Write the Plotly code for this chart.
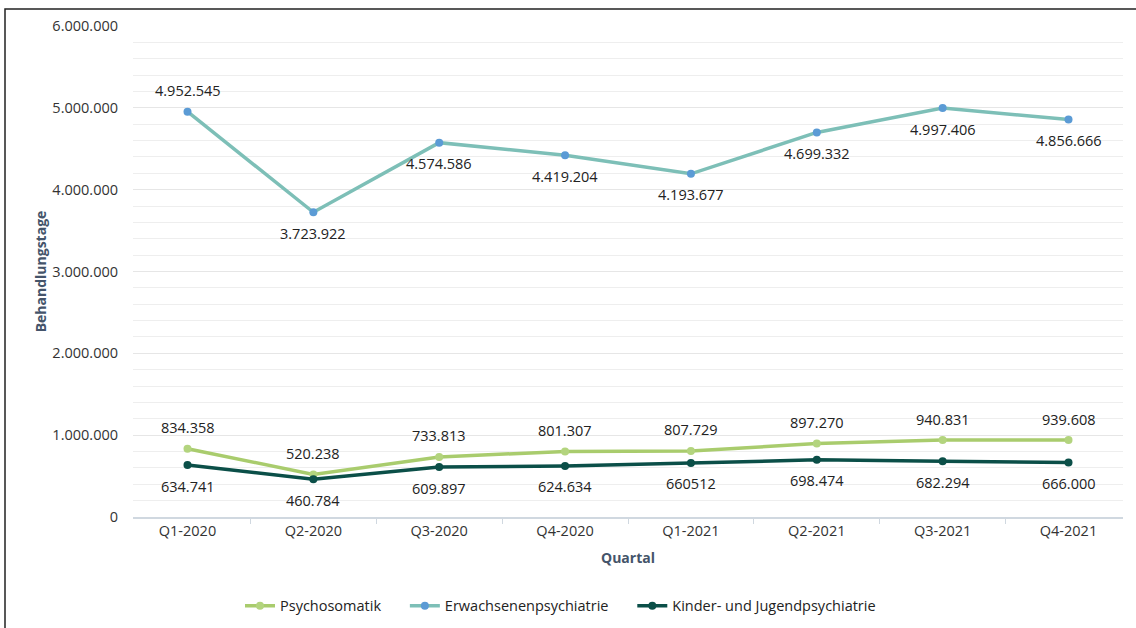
import plotly.graph_objects as go

quartale = ["Q1-2020", "Q2-2020", "Q3-2020", "Q4-2020", "Q1-2021", "Q2-2021", "Q3-2021", "Q4-2021"]

psychosomatik = [834358, 520238, 733813, 801307, 807729, 897270, 940831, 939608]
erwachsenen = [4952545, 3723922, 4574586, 4419204, 4193677, 4699332, 4997406, 4856666]
kinder = [634741, 460784, 609897, 624634, 660512, 698474, 682294, 666000]

psychosomatik_labels = ["834.358", "520.238", "733.813", "801.307", "807.729", "897.270", "940.831", "939.608"]
erwachsenen_labels = ["4.952.545", "3.723.922", "4.574.586", "4.419.204", "4.193.677", "4.699.332", "4.997.406", "4.856.666"]
kinder_labels = ["634.741", "460.784", "609.897", "624.634", "660512", "698.474", "682.294", "666.000"]

# label above (+1) or below (-1) the point
psych_side = [1] * 8
erw_side = [1] + [-1] * 7
kinder_side = [-1] * 8

font = "Open Sans, DejaVu Sans, sans-serif"
pad = "\u00a0" * 5  # extra gap between legend entries

fig = go.Figure()

series = [
    ("Psychosomatik" + pad, psychosomatik, psychosomatik_labels, psych_side, "#a9cc6d", "#b3d47e"),
    ("Erwachsenenpsychiatrie" + pad, erwachsenen, erwachsenen_labels, erw_side, "#7dbfb7", "#5b9bd5"),
    ("Kinder- und Jugendpsychiatrie", kinder, kinder_labels, kinder_side, "#0b4f48", "#0b4f48"),
]

annotations = []
for name, vals, labels, side, lc, mc in series:
    fig.add_trace(go.Scatter(
        x=quartale, y=vals, name=name, mode="lines+markers",
        line=dict(color=lc, width=3.5),
        marker=dict(color=mc, size=8),
    ))
    for q, v, t, s in zip(quartale, vals, labels, side):
        annotations.append(dict(
            x=q, y=v, text=t, showarrow=False, yshift=21 * s,
            font=dict(size=14.5, color="#222222"),
        ))

fig.update_layout(
    width=1136, height=628,
    margin=dict(l=133, r=13, t=26, b=111, autoexpand=False),
    paper_bgcolor="white", plot_bgcolor="white",
    separators=",.",
    font=dict(family=font, size=14, color="#333333"),
    showlegend=True,
    legend=dict(orientation="h", x=(240 - 133) / 990, xanchor="left", y=-0.181, yanchor="middle",
                font=dict(size=14.5, color="#222222"), itemwidth=30),
    annotations=annotations,
    shapes=[dict(type="rect", xref="paper", yref="paper",
                 x0=(5 - 133) / 990, x1=(1145 - 133) / 990,
                 y0=(517 - 650) / 491, y1=1 + (26 - 9) / 491,
                 line=dict(color="#222222", width=1.5), fillcolor="rgba(0,0,0,0)")],
)

fig.update_xaxes(
    type="category", tickson="boundaries", ticks="outside", ticklen=5,
    tickcolor="#d0d8e0", showline=True, linecolor="#d0d8e0", linewidth=1.5,
    showgrid=False, tickfont=dict(size=14.5, color="#333333"),
    title=dict(text="<b>Quartal</b>", font=dict(size=14, color="#44546a"), standoff=14),
)
fig.update_yaxes(
    range=[0, 6000000], dtick=1000000, tickformat=",d",
    showgrid=True, gridcolor="#e6e6e6", gridwidth=1,
    minor=dict(dtick=200000, showgrid=True, gridcolor="#eeeeee", gridwidth=1),
    zeroline=False, showline=False, ticks="", ticklabelstandoff=14,
    tickfont=dict(size=14.5, color="#333333"),
    title=dict(text="<b>Behandlungstage</b>", font=dict(size=14, color="#44546a"), standoff=2),
)

fig.write_html("out.html", config={"displayModeBar": False},
               post_script="document.body.style.margin='0';")
